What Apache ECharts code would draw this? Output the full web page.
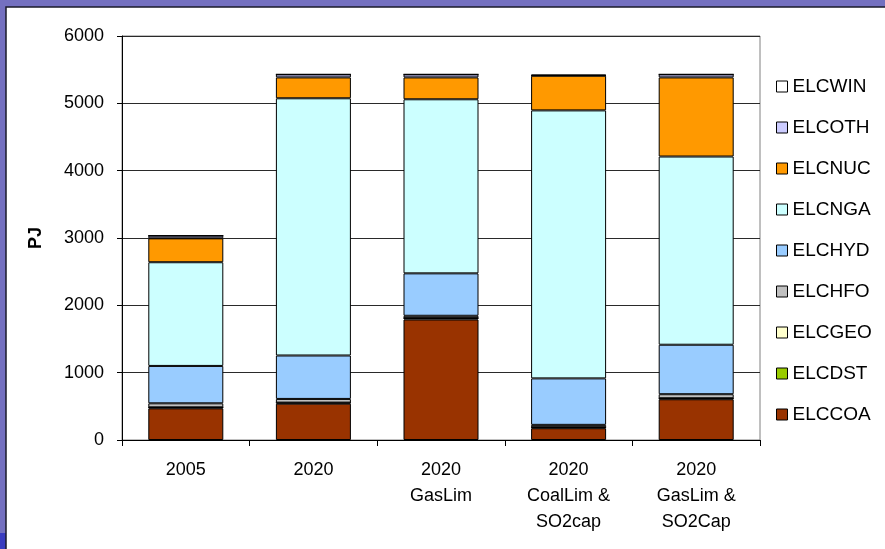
<!DOCTYPE html>
<html>
<head>
<meta charset="utf-8">
<script src="https://cdn.jsdelivr.net/npm/echarts@6/dist/echarts.min.js"></script>
<style>
  html, body { margin: 0; padding: 0; background: #7470c0; }
  #chart { width: 885px; height: 549px; }
</style>
</head>
<body>
<div id="chart"></div>
<script>
// Electricity generation by fuel, PJ
const categories = ['2005', '2020', '2020\nGasLim', '2020\nCoalLim &\nSO2cap', '2020\nGasLim &\nSO2Cap'];

const ELCCOA = [470, 540, 1790, 175, 605];
const ELCDST = [15, 15, 20, 15, 15];
const ELCGEO = [0, 0, 0, 0, 0];
const ELCHFO = [60, 55, 35, 35, 60];
const ELCHYD = [555, 645, 630, 690, 735];
const ELCNGA = [1540, 3820, 2585, 3980, 2795];
const ELCNUC = [355, 310, 325, 515, 1175];
const ELCOTH = [40, 45, 45, 5, 45];
const ELCWIN = [0, 0, 0, 10, 0];

const yTicks = [0, 1000, 2000, 3000, 4000, 5000, 6000];

const seriesDefs = [
  { name: 'ELCCOA', data: ELCCOA, color: '#993300' },
  { name: 'ELCDST', data: ELCDST, color: '#99CC00' },
  { name: 'ELCGEO', data: ELCGEO, color: '#FFFFCC' },
  { name: 'ELCHFO', data: ELCHFO, color: '#C0C0C0' },
  { name: 'ELCHYD', data: ELCHYD, color: '#99CCFF' },
  { name: 'ELCNGA', data: ELCNGA, color: '#CCFFFF' },
  { name: 'ELCNUC', data: ELCNUC, color: '#FF9900' },
  { name: 'ELCOTH', data: ELCOTH, color: '#CCCCFF' },
  { name: 'ELCWIN', data: ELCWIN, color: '#FFFFFF' }
];

const FONT = '"Liberation Sans", Arial, sans-serif';
const FS = 18;

const chart = echarts.init(document.getElementById('chart'), null, { renderer: 'canvas' });

chart.setOption({
  backgroundColor: '#7470c0',
  animation: false,
  textStyle: { fontFamily: FONT },
  graphic: [
    { type: 'rect', shape: { x: 0, y: 533, width: 6, height: 16 }, style: { fill: '#3a3cc0' }, z: -10 },
    { type: 'rect', shape: { x: 6, y: 7, width: 885, height: 560 }, style: { fill: '#ffffff', stroke: '#1a1a2a', lineWidth: 1.5 }, z: -10 }
  ],
  grid: { left: 122, right: 125, top: 36, bottom: 109, show: true, borderColor: '#808080', borderWidth: 1, backgroundColor: 'transparent' },
  legend: {
    orient: 'vertical',
    left: 771,
    top: 72,
    itemWidth: 11,
    itemHeight: 11,
    itemGap: 22,
    icon: 'rect',
    selectedMode: false,
    data: seriesDefs.map(s => s.name).reverse(),
    textStyle: { fontFamily: FONT, fontSize: 19, color: '#000' },
    itemStyle: { borderColor: '#000', borderWidth: 1 }
  },
  xAxis: {
    type: 'category',
    data: categories,
    axisLine: { lineStyle: { color: '#000', width: 1 } },
    axisTick: { show: true, length: 6, lineStyle: { color: '#000' } },
    axisLabel: { interval: 0, fontSize: FS, color: '#000', lineHeight: 26, margin: 17, fontFamily: FONT }
  },
  yAxis: {
    type: 'value',
    min: 0,
    max: 6000,
    interval: 1000,
    name: 'PJ',
    nameLocation: 'middle',
    nameRotate: 90,
    nameGap: 77,
    nameTextStyle: { fontSize: FS, fontWeight: 'bold', color: '#000', fontFamily: FONT },
    axisLine: { show: true, lineStyle: { color: '#000', width: 1 } },
    axisTick: { show: true, length: 5, lineStyle: { color: '#000' } },
    axisLabel: { fontSize: FS, color: '#000', margin: 18, fontFamily: FONT,
      formatter: v => (yTicks.indexOf(v) >= 0 ? String(v) : '') },
    splitLine: { show: true, lineStyle: { color: '#2a2a2a', width: 1 } }
  },
  series: seriesDefs.map(s => ({
    name: s.name,
    type: 'bar',
    stack: 'total',
    barWidth: 75,
    data: s.data,
    itemStyle: { color: s.color, borderColor: '#000', borderWidth: 1 },
    emphasis: { disabled: true }
  }))
});
</script>
</body>
</html>
